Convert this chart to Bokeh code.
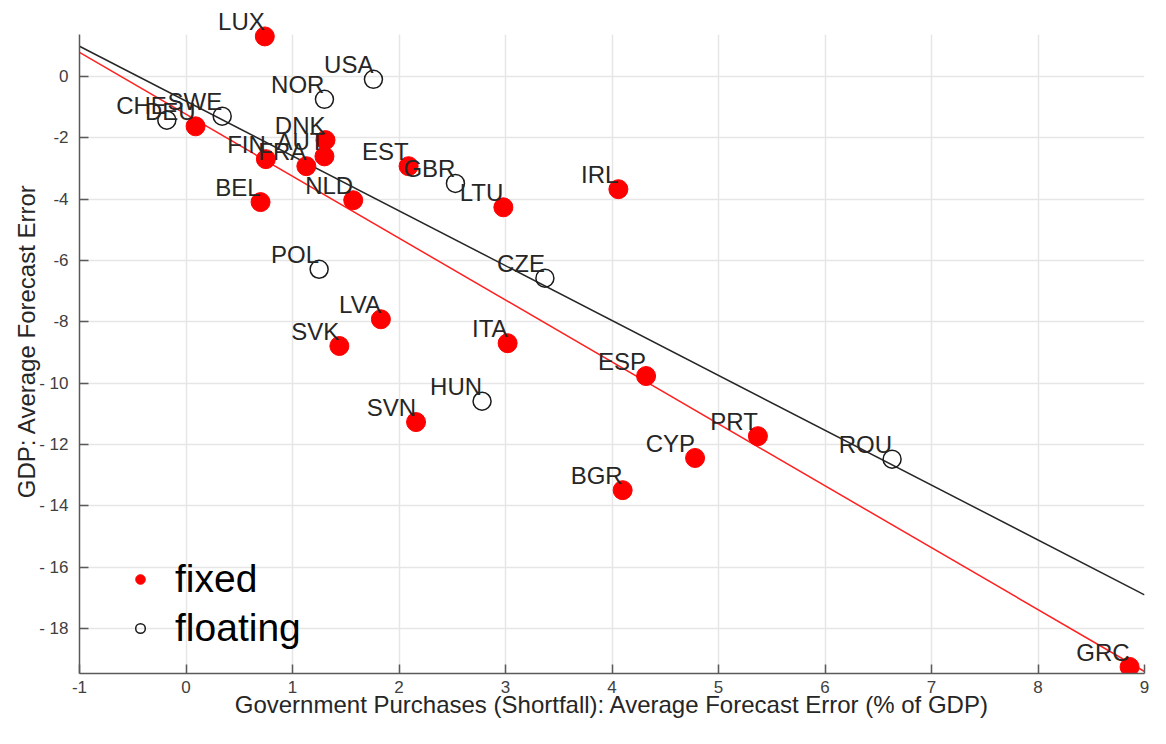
from bokeh.plotting import figure
from bokeh.models import ColumnDataSource, LabelSet, FixedTicker, Legend, LegendItem, Range1d
from bokeh.embed import file_html
from bokeh.resources import INLINE
from bokeh.core.properties import value

# fixed exchange-rate countries
fixed_names = ["LUX", "DEU", "FIN", "FRA", "DNK", "AUT", "EST", "BEL", "NLD", "LTU",
               "IRL", "LVA", "SVK", "ITA", "ESP", "SVN", "PRT", "CYP", "BGR", "GRC"]
fixed_x = [0.74, 0.09, 0.75, 1.13, 1.31, 1.30, 2.09, 0.70, 1.57, 2.98,
           4.06, 1.83, 1.44, 3.02, 4.32, 2.16, 5.37, 4.78, 4.10, 8.86]
fixed_y = [1.30, -1.63, -2.70, -2.93, -2.08, -2.61, -2.93, -4.10, -4.04, -4.27,
           -3.68, -7.92, -8.79, -8.70, -9.77, -11.27, -11.73, -12.44, -13.49, -19.25]

# floating exchange-rate countries
float_names = ["USA", "NOR", "SWE", "CHE", "GBR", "POL", "CZE", "HUN", "ROU"]
float_x = [1.76, 1.30, 0.34, -0.18, 2.53, 1.25, 3.37, 2.78, 6.63]
float_y = [-0.10, -0.75, -1.30, -1.43, -3.49, -6.29, -6.58, -10.59, -12.48]

# fitted lines (endpoints at x = -1 and x = 9)
fit_x = [-1, 9]
fit_fixed_y = [0.78, -19.40]
fit_float_y = [0.98, -16.90]

x_ticks = [-1, 0, 1, 2, 3, 4, 5, 6, 7, 8, 9]
x_tick_labels = ["-1", "0", "1", "2", "3", "4", "5", "6", "7", "8", "9"]
y_ticks = [0, -2, -4, -6, -8, -10, -12, -14, -16, -18]
y_tick_labels = ["0", "-2", "-4", "-6", "-8", "- 10", "- 12", "- 14", "- 16", "- 18"]

X_LIM = (-1, 9)
Y_LIM = (-19.465, 1.35)
Y_VIEW_TOP = 2.21  # extra room above the axes box for the LUX label

FONT = "Liberation Sans"
AX_COLOR = "#5a5a5a"

p = figure(width=1150, height=720, output_backend="svg", toolbar_location=None,
           x_range=Range1d(*X_LIM), y_range=Range1d(Y_LIM[0], Y_VIEW_TOP),
           min_border_left=79, min_border_right=6, min_border_top=8, min_border_bottom=46)
p.outline_line_color = None
p.background_fill_color = "white"
p.border_fill_color = "white"

p.line(fit_x, fit_fixed_y, line_color="#ff2020", line_width=1.5)
p.line(fit_x, fit_float_y, line_color="#262626", line_width=1.5)

src_fixed = ColumnDataSource(dict(x=fixed_x, y=fixed_y, name=fixed_names))
src_float = ColumnDataSource(dict(x=float_x, y=float_y, name=float_names))

r_fixed = p.scatter("x", "y", source=src_fixed, size=19, fill_color="#ff0000",
                    line_color="#ff0000", line_width=1)
r_float = p.scatter("x", "y", source=src_float, size=18, fill_color=None,
                    line_color="#1a1a1a", line_width=1.5)

for src in (src_fixed, src_float):
    labels = LabelSet(x="x", y="y", text="name", source=src, text_align="right",
                      text_baseline="alphabetic", y_offset=6, x_offset=0,
                      text_font=value(FONT), text_font_size="24px", text_color="#262626")
    p.add_layout(labels)

legend = Legend(items=[LegendItem(label="fixed", renderers=[r_fixed]),
                       LegendItem(label="floating", renderers=[r_float])],
                location=(49, 23), orientation="vertical")
legend.label_text_font = FONT
legend.label_text_font_size = "39px"
legend.label_text_color = "#000000"
legend.glyph_width = 24
legend.glyph_height = 24
legend.label_height = 40
legend.spacing = 5
legend.label_standoff = 23
legend.padding = 0
legend.margin = 0
legend.border_line_color = None
legend.background_fill_alpha = 0
p.add_layout(legend)

for ax in (p.xaxis, p.yaxis):
    ax.axis_line_color = AX_COLOR
    ax.axis_line_width = 1.5
    ax.major_tick_line_color = AX_COLOR
    ax.major_tick_line_width = 1.5
    ax.major_tick_in = 9
    ax.major_tick_out = 0
    ax.minor_tick_line_color = None
    ax.major_label_text_font = FONT
    ax.major_label_text_font_size = "17px"
    ax.major_label_text_color = "#404040"
    ax.axis_label_text_font = FONT
    ax.axis_label_text_font_size = "24px"
    ax.axis_label_text_font_style = "normal"
    ax.axis_label_text_color = "#262626"

p.yaxis.bounds = Y_LIM
p.xaxis.ticker = FixedTicker(ticks=x_ticks)
p.xaxis.major_label_overrides = dict(zip(x_ticks, x_tick_labels))
p.yaxis.ticker = FixedTicker(ticks=y_ticks)
p.yaxis.major_label_overrides = dict(zip(y_ticks, y_tick_labels))
p.xaxis.major_label_standoff = 7
p.yaxis.major_label_standoff = 11
p.xaxis.axis_label = "Government Purchases (Shortfall): Average Forecast Error (% of GDP)"
p.yaxis.axis_label = "GDP: Average Forecast Error"
p.xaxis.axis_label_standoff = -5
p.yaxis.axis_label_standoff = -4

p.xgrid.grid_line_color = "#e6e6e6"
p.ygrid.grid_line_color = "#e6e6e6"
p.xgrid.grid_line_width = 1.5
p.ygrid.grid_line_width = 1.5
p.xgrid.cross_bounds = Y_LIM

open("out.html", "w").write(file_html(p, INLINE))
